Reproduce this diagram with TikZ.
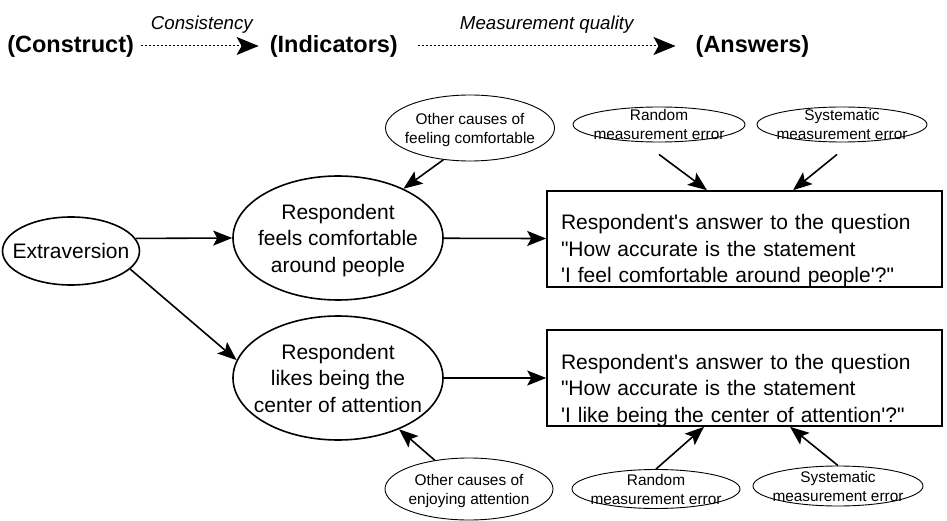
\documentclass[tikz,border=0pt]{standalone}
\usepackage{fontspec}
\newfontfamily\helv{Liberation Sans}
\usetikzlibrary{arrows.meta, shapes.geometric}

\newcommand{\elltext}[1]{\raisebox{-.36em}[0pt][0pt]{\makebox[0pt]{\begin{tabular}{@{}c@{}}#1\end{tabular}}}}

\tikzset{
  arr/.style={-{Stealth[length=19pt, width=15pt, inset=4pt]}, line width=1.6pt},
  dotarr/.style={-{Stealth[length=22pt, width=18pt, inset=5pt]}, line width=1pt, dash pattern=on 2.5pt off 1.5pt},
  bigell/.style={ellipse, draw, line width=1.6pt, inner sep=0pt, font=\helv\fontsize{21}{26.5}\selectfont},
  smallell/.style={ellipse, draw, line width=0.9pt, inner sep=0pt, font=\helv\fontsize{15.4}{19}\selectfont},
  answerbox/.style={rectangle, draw, line width=1.6pt, inner xsep=14pt, inner ysep=0pt, text width=367pt, align=left, text height=39pt, text depth=57pt, font=\helv\fontsize{21}{26.5}\selectfont},
  head/.style={inner sep=0pt, font=\helv\bfseries\fontsize{23.5}{28}\selectfont},
  headlabel/.style={font=\helv\itshape\fontsize{18.7}{22}\selectfont}
}

\begin{document}
\begin{tikzpicture}[x=1pt, y=-1pt]
\useasboundingbox (0,0) rectangle (947,521);

\node[head] (construct) at (70.6, 46) {(Construct)};
\node[head] (indicators) at (333.8, 46) {(Indicators)};
\node[head] (answers) at (752.5, 46) {(Answers)};
\draw[dotarr, shorten <=6.5pt, shorten >=11pt] (construct) -- (indicators)
  node[midway, above=9pt, headlabel] {Consistency};
\draw[dotarr, shorten <=20pt, shorten >=20pt] (indicators) -- (answers)
  node[midway, above=9pt, headlabel] {Measurement quality};

\node[bigell, minimum width=137, minimum height=68] (extra) at (71, 251) {\elltext{Extraversion}};
\node[bigell, minimum width=210, minimum height=124] (ell1) at (338, 238) {\elltext{Respondent\\feels comfortable\\around people}};
\node[bigell, minimum width=210, minimum height=124] (ell2) at (338, 378) {\elltext{Respondent\\likes being the\\center of attention}};
\node[answerbox] (box1) at (744.5, 239) {Respondent's answer to the question\\"How accurate is the statement\\'I feel comfortable around people'?"};
\node[answerbox] (box2) at (744.5, 378) {Respondent's answer to the question\\"How accurate is the statement\\'I like being the center of attention'?"};

\node[smallell, minimum width=169, minimum height=66] (other1) at (470, 128) {\elltext{Other causes of\\feeling comfortable}};
\node[smallell, minimum width=168, minimum height=62] (other2) at (469, 489) {\elltext{Other causes of\\enjoying attention}};
\node[smallell, minimum width=172, minimum height=35] (rand1) at (659, 124.5) {\elltext{Random\\measurement error}};
\node[smallell, minimum width=170, minimum height=35] (sys1) at (842, 124.5) {\elltext{Systematic\\measurement error}};
\node[smallell, minimum width=168, minimum height=39] (rand2) at (656, 489) {\elltext{Random\\measurement error}};
\node[smallell, minimum width=170, minimum height=40] (sys2) at (838, 486) {\elltext{Systematic\\measurement error}};

\draw[arr] (extra.11) -- (ell1.west);
\draw[arr] (extra.-17) -- (ell2.170);
\draw[arr] (ell1) -- (box1);
\draw[arr] (ell2) -- (box2);
\draw[arr] (other1.230) -- (ell1.37);
\draw[arr] (other2.140) -- (ell2.-40);
\draw[arr] ([yshift=-12pt]rand1.south) -- ([xshift=-37.5pt]box1.north);
\draw[arr] ([xshift=-5pt, yshift=-12pt]sys1.south) -- ([xshift=48.5pt]box1.north);
\draw[arr] (rand2.north) -- ([xshift=-40.5pt]box2.south);
\draw[arr] (sys2.north) -- ([xshift=45.5pt]box2.south);
\end{tikzpicture}
\end{document}
